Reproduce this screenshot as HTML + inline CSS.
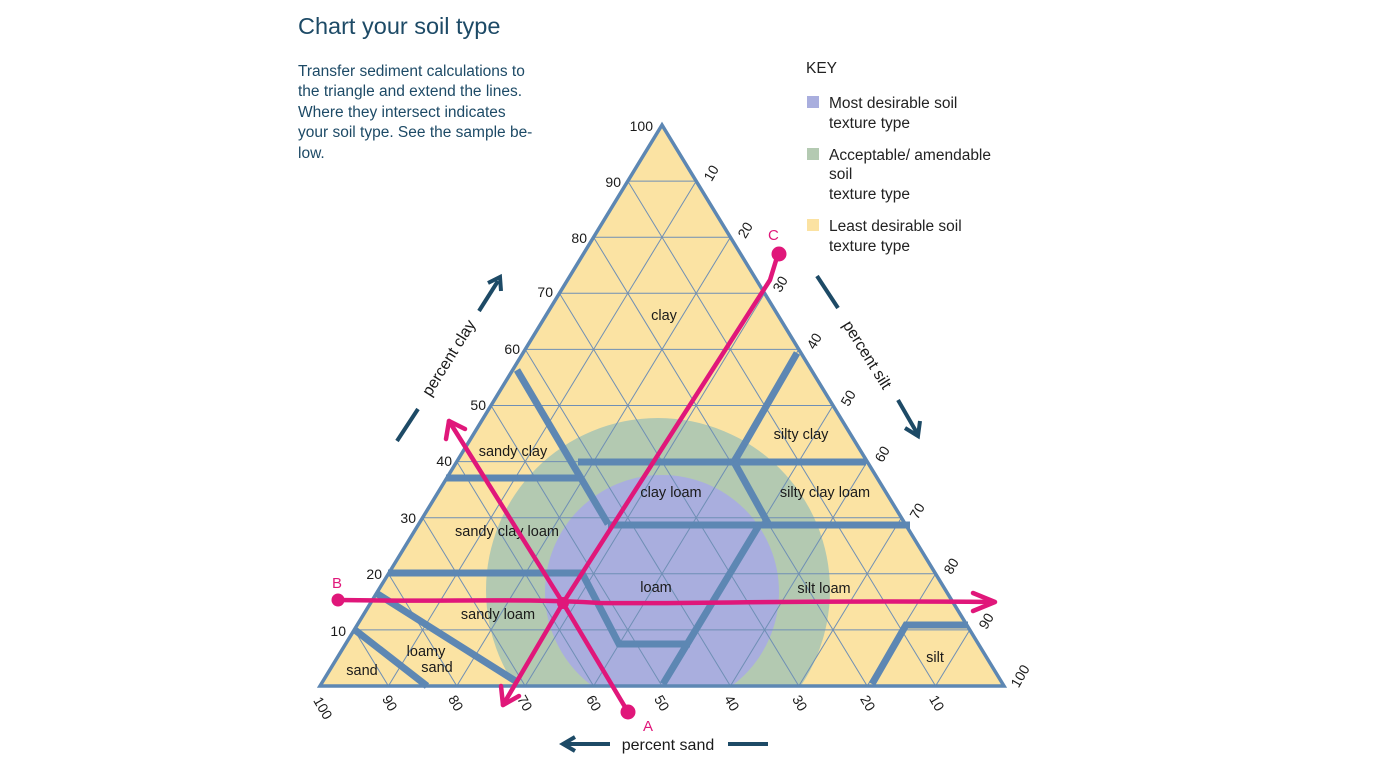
<!DOCTYPE html>
<html><head><meta charset="utf-8"><style>
html,body{margin:0;padding:0;background:#fff;width:1376px;height:768px;overflow:hidden}
svg text{font-family:"Liberation Sans",sans-serif}
</style></head><body>
<svg width="1376" height="768" viewBox="0 0 1376 768" xmlns="http://www.w3.org/2000/svg">
<defs>
<clipPath id="tri"><polygon points="662,125 320,686 1004,686"/></clipPath>
</defs>
<text x="298" y="34" font-size="23.5" fill="#1d4a66">Chart your soil type</text>
<g font-size="15.5" fill="#1d4a66">
<text x="298" y="76">Transfer sediment calculations to</text>
<text x="298" y="96">the triangle and extend the lines.</text>
<text x="298" y="117">Where they intersect indicates</text>
<text x="298" y="137">your soil type. See the sample be-</text>
<text x="298" y="158">low.</text>
</g>
<g font-size="15.5" fill="#222">
<text x="806" y="73">KEY</text>
<rect x="807" y="96" width="12" height="12" fill="#a9aede"/>
<text x="829" y="108">Most desirable soil</text>
<text x="829" y="128">texture type</text>
<rect x="807" y="148" width="12" height="12" fill="#b4cab2"/>
<text x="829" y="160">Acceptable/ amendable</text>
<text x="829" y="179">soil</text>
<text x="829" y="199">texture type</text>
<rect x="807" y="219" width="12" height="12" fill="#fbe2a2"/>
<text x="829" y="231">Least desirable soil</text>
<text x="829" y="251">texture type</text>
</g>
<polygon points="662,125 320,686 1004,686" fill="#fbe3a3"/>
<g clip-path="url(#tri)">
<circle cx="658" cy="590" r="172" fill="#b3c9b1"/>
<circle cx="662" cy="592" r="117" fill="#a9aede"/>
</g>
<g stroke="#6f8fb5" stroke-width="1" fill="none">
<line x1="354.2" y1="629.9" x2="969.8" y2="629.9"/>
<line x1="388.4" y1="573.8" x2="935.6" y2="573.8"/>
<line x1="422.6" y1="517.7" x2="901.4" y2="517.7"/>
<line x1="456.8" y1="461.6" x2="867.2" y2="461.6"/>
<line x1="491" y1="405.5" x2="833" y2="405.5"/>
<line x1="525.2" y1="349.4" x2="798.8" y2="349.4"/>
<line x1="559.4" y1="293.3" x2="764.6" y2="293.3"/>
<line x1="593.6" y1="237.2" x2="730.4" y2="237.2"/>
<line x1="627.8" y1="181.1" x2="696.2" y2="181.1"/>
<line x1="935.6" y1="686" x2="627.8" y2="181.1"/>
<line x1="867.2" y1="686" x2="593.6" y2="237.2"/>
<line x1="798.8" y1="686" x2="559.4" y2="293.3"/>
<line x1="730.4" y1="686" x2="525.2" y2="349.4"/>
<line x1="662" y1="686" x2="491" y2="405.5"/>
<line x1="593.6" y1="686" x2="456.8" y2="461.6"/>
<line x1="525.2" y1="686" x2="422.6" y2="517.7"/>
<line x1="456.8" y1="686" x2="388.4" y2="573.8"/>
<line x1="388.4" y1="686" x2="354.2" y2="629.9"/>
<line x1="388.4" y1="686" x2="696.2" y2="181.1"/>
<line x1="456.8" y1="686" x2="730.4" y2="237.2"/>
<line x1="525.2" y1="686" x2="764.6" y2="293.3"/>
<line x1="593.6" y1="686" x2="798.8" y2="349.4"/>
<line x1="662" y1="686" x2="833" y2="405.5"/>
<line x1="730.4" y1="686" x2="867.2" y2="461.6"/>
<line x1="798.8" y1="686" x2="901.4" y2="517.7"/>
<line x1="867.2" y1="686" x2="935.6" y2="573.8"/>
<line x1="935.6" y1="686" x2="969.8" y2="629.9"/>
</g>
<g stroke="#5d87b3" stroke-width="7" fill="none" stroke-linejoin="miter">
<line x1="517" y1="370" x2="608" y2="524"/>
<line x1="446" y1="478" x2="582" y2="478"/>
<line x1="578" y1="462" x2="866" y2="462"/>
<line x1="797" y1="353" x2="734" y2="462"/>
<line x1="734" y1="462" x2="769" y2="525"/>
<line x1="608" y1="525" x2="910" y2="525"/>
<line x1="758" y1="527" x2="663" y2="684"/>
<polyline points="388,573 582,573 619,644 690,644"/>
<line x1="376" y1="593" x2="517" y2="682"/>
<line x1="355" y1="630" x2="427" y2="686"/>
<polyline points="968,625 906,625 872,684"/>
</g>
<polygon points="662,125 320,686 1004,686" fill="none" stroke="#5d87b3" stroke-width="3.5" stroke-linejoin="miter"/>
<g font-size="14.5" fill="#1a1a1a" text-anchor="middle">
<text x="664" y="320">clay</text>
<text x="513" y="456">sandy clay</text>
<text x="801" y="439">silty clay</text>
<text x="671" y="497">clay loam</text>
<text x="825" y="497">silty clay loam</text>
<text x="507" y="536">sandy clay loam</text>
<text x="656" y="592">loam</text>
<text x="824" y="593">silt loam</text>
<text x="498" y="619">sandy loam</text>
<text x="426" y="656">loamy</text>
<text x="437" y="672">sand</text>
<text x="362" y="675">sand</text>
<text x="935" y="662">silt</text>
</g>
<g font-size="14" fill="#1a1a1a" text-anchor="end">
<text x="653" y="131">100</text>
<text x="621" y="187">90</text>
<text x="587" y="243">80</text>
<text x="553" y="297">70</text>
<text x="520" y="354">60</text>
<text x="486" y="410">50</text>
<text x="452" y="466">40</text>
<text x="416" y="523">30</text>
<text x="382" y="579">20</text>
<text x="346" y="636">10</text>
</g>
<g font-size="14" fill="#1a1a1a" text-anchor="middle">
<text transform="translate(711,173) rotate(-60)" dy="5">10</text>
<text transform="translate(745,230) rotate(-60)" dy="5">20</text>
<text transform="translate(780,284) rotate(-60)" dy="5">30</text>
<text transform="translate(814,341) rotate(-60)" dy="5">40</text>
<text transform="translate(848,398) rotate(-60)" dy="5">50</text>
<text transform="translate(882,454) rotate(-60)" dy="5">60</text>
<text transform="translate(917,511) rotate(-60)" dy="5">70</text>
<text transform="translate(951,566) rotate(-60)" dy="5">80</text>
<text transform="translate(986,621) rotate(-60)" dy="5">90</text>
<text transform="translate(1020,676) rotate(-60)" dy="5">100</text>
<text transform="translate(323,708) rotate(60)" dy="5">100</text>
<text transform="translate(390,703) rotate(60)" dy="5">90</text>
<text transform="translate(456,703) rotate(60)" dy="5">80</text>
<text transform="translate(525,703) rotate(60)" dy="5">70</text>
<text transform="translate(594,703) rotate(60)" dy="5">60</text>
<text transform="translate(662,703) rotate(60)" dy="5">50</text>
<text transform="translate(732,703) rotate(60)" dy="5">40</text>
<text transform="translate(800,703) rotate(60)" dy="5">30</text>
<text transform="translate(868,703) rotate(60)" dy="5">20</text>
<text transform="translate(937,703) rotate(60)" dy="5">10</text>
</g>
<g font-size="16" fill="#1a1a1a" text-anchor="middle">
<text transform="translate(449,358) rotate(-58)" dy="5">percent clay</text>
<text transform="translate(867,355) rotate(58)" dy="5">percent silt</text>
<text x="668" y="750">percent sand</text>
</g>
<g stroke="#1d4a66" stroke-width="4" fill="none">
<line x1="397" y1="441" x2="418" y2="409"/>
<line x1="479" y1="311" x2="498" y2="281"/>
<polyline points="488,283 500,277 501,291"/>
<line x1="817" y1="276" x2="838" y2="308"/>
<line x1="898" y1="400" x2="917" y2="433"/>
<polyline points="905,428 918,436 920,421"/>
<line x1="610" y1="744" x2="564" y2="744"/>
<polyline points="575,737 563,744 575,751"/>
<line x1="728" y1="744" x2="768" y2="744"/>
</g>
<g stroke="#e0177a" stroke-width="4.5" fill="none" stroke-linecap="round" stroke-linejoin="round">
<path d="M338,600 C 450,602 520,598 600,603 C 700,604 800,600 992,602"/>
<polyline points="973,593 995,602 973,611"/>
<path d="M628,712 L 563,603 L 449,421"/>
<polyline points="446,439 449,421 465,429"/>
<path d="M778,254 L 770,280 L 563,603 L 503,705"/>
<polyline points="501,686 503,705 519,696"/>
</g>
<g fill="#e0177a">
<circle cx="338" cy="600" r="6.5"/>
<circle cx="628" cy="712" r="7.5"/>
<circle cx="779" cy="254" r="7.5"/>
<circle cx="563" cy="603" r="6"/>
<text x="332" y="588" font-size="15">B</text>
<text x="643" y="731" font-size="15">A</text>
<text x="768" y="240" font-size="15">C</text>
</g>
</svg>
</body></html>
